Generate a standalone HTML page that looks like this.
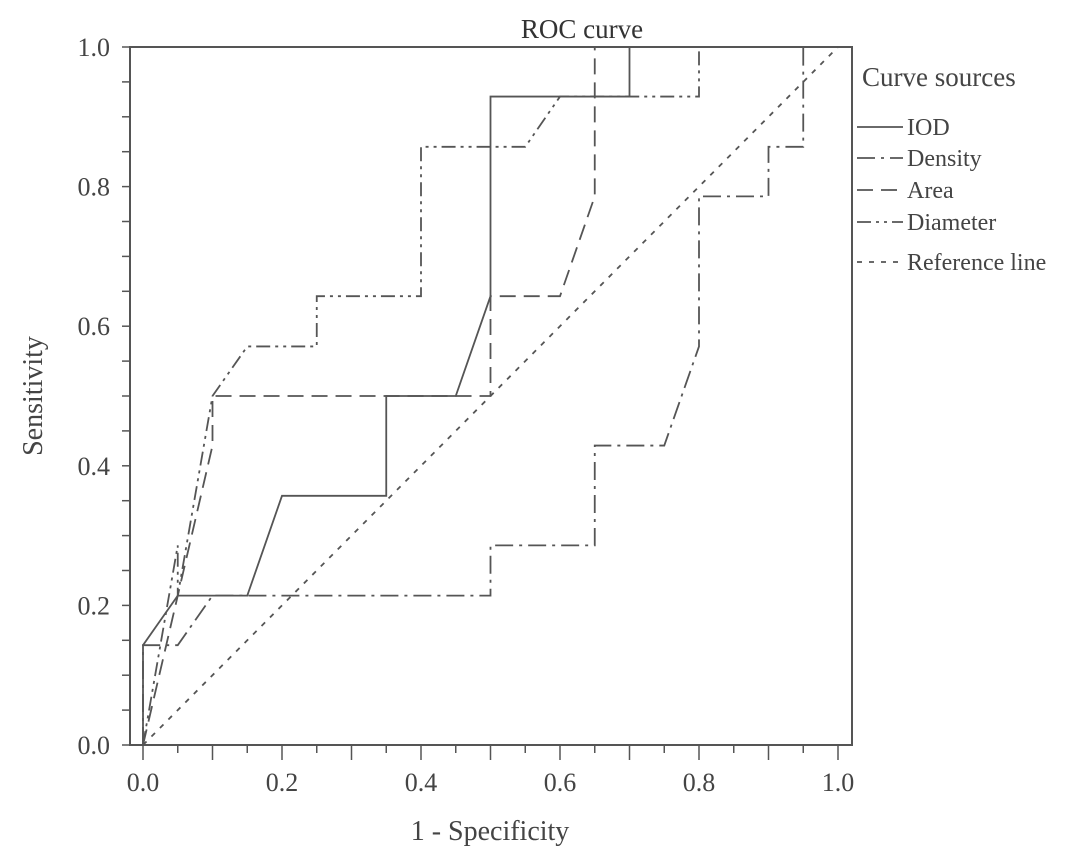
<!DOCTYPE html>
<html><head><meta charset="utf-8"><style>
body{margin:0;background:#fff;}
svg{display:block;font-family:"Liberation Serif",serif;}
</style></head><body>
<svg width="1087" height="863" viewBox="0 0 1087 863">
<rect x="0" y="0" width="1087" height="863" fill="#fff"/>
<g id="plot"></g>
</svg>
<script>
const categories = ["IOD","Density","Area","Diameter","Reference line"];
const iodX = [0,0,0.05,0.15,0.2,0.35,0.35,0.45,0.5,0.5,0.7,0.7,1];
const iodY = [0,0.143,0.214,0.214,0.357,0.357,0.5,0.5,0.643,0.929,0.929,1,1];
const densityX = [0,0,0.05,0.1,0.5,0.5,0.65,0.65,0.75,0.8,0.8,0.9,0.9,0.95,0.95,1];
const densityY = [0,0.143,0.143,0.214,0.214,0.286,0.286,0.429,0.429,0.571,0.786,0.786,0.857,0.857,1,1];
const areaX = [0,0.05,0.1,0.1,0.5,0.5,0.6,0.65,0.65,1];
const areaY = [0,0.214,0.429,0.5,0.5,0.643,0.643,0.786,1,1];
const diameterX = [0,0.05,0.05,0.1,0.15,0.25,0.25,0.4,0.4,0.55,0.6,0.8,0.8,1];
const diameterY = [0,0.286,0.214,0.5,0.571,0.571,0.643,0.643,0.857,0.857,0.929,0.929,1,1];
const refX = [0,1];
const refY = [0,1];
const xTicks = ["0.0","0.2","0.4","0.6","0.8","1.0"];
const yTicks = ["0.0","0.2","0.4","0.6","0.8","1.0"];

const X0=143, X1=838, Y0=745, Y1=47;
const sx = v => X0 + v*(X1-X0);
const sy = v => Y0 - v*(Y0-Y1);
const NS="http://www.w3.org/2000/svg";
const g=document.getElementById('plot');
function mk(tag,attrs,parent){const e=document.createElementNS(NS,tag);for(const k in attrs)e.setAttribute(k,attrs[k]);(parent||g).appendChild(e);return e;}

const frame=mk('rect',{x:130,y:47,width:722,height:698,fill:'none',stroke:'#555','stroke-width':2});


const title=mk('text',{x:582,y:38,'font-size':27,'text-anchor':'middle',fill:'#333'});
title.textContent='ROC curve';



for(let i=0;i<=20;i++){const v=i/20;
 const t=mk('line',{x1:sx(v),x2:sx(v),y1:745,y2:745+(i%2==0?15:8),stroke:'#555','stroke-width':1.5});
 
 }
xTicks.forEach((s,i)=>{const v=parseFloat(s);
 const t=mk('text',{x:sx(v),y:791,'font-size':26,'text-anchor':'middle',fill:'#444'});t.textContent=s;
 
 });
for(let i=0;i<=20;i++){const v=i/20;
 const t=mk('line',{x1:130,x2:122,y1:sy(v),y2:sy(v),stroke:'#555','stroke-width':1.5});
 
 }
yTicks.forEach(s=>{const v=parseFloat(s);
 const t=mk('text',{x:110,y:sy(v)+9,'font-size':26,'text-anchor':'end',fill:'#444'});t.textContent=s;
 
 });
const xl=mk('text',{x:490,y:840,'font-size':28,'text-anchor':'middle',fill:'#444'});xl.textContent='1 - Specificity';


const yl=mk('text',{x:0,y:0,'font-size':28,'text-anchor':'middle',fill:'#444',transform:'translate(42,396) rotate(-90)'});yl.textContent='Sensitivity';



const styles=[
 {xs:iodX,ys:iodY,dash:'',name:'iod-curve'},
 {xs:densityX,ys:densityY,dash:'18 6 3 6',name:'density-curve'},
 {xs:areaX,ys:areaY,dash:'16 8',name:'area-curve'},
 {xs:diameterX,ys:diameterY,dash:'14 5 3 5 3 5',name:'diameter-curve'},
 {xs:refX,ys:refY,dash:'5 7',name:'reference-line'}];
styles.forEach(s=>{
 const pts=s.xs.map((x,i)=>sx(x)+','+sy(s.ys[i])).join(' ');
 const p=mk('polyline',{points:pts,fill:'none',stroke:'#555','stroke-width':1.8,'stroke-dasharray':s.dash});
 
 
});
const lt=mk('text',{x:862,y:86,'font-size':27,fill:'#444'});lt.textContent='Curve sources';


const ly=[127,158,190,222,262];
categories.forEach((c,i)=>{
 const l=mk('line',{x1:857,x2:903,y1:ly[i],y2:ly[i],stroke:'#555','stroke-width':1.8,'stroke-dasharray':styles[i].dash});
 
 
 const t=mk('text',{x:907,y:ly[i]+8,'font-size':24,fill:'#444'});t.textContent=c;
 
 
});
</script>
</body></html>
